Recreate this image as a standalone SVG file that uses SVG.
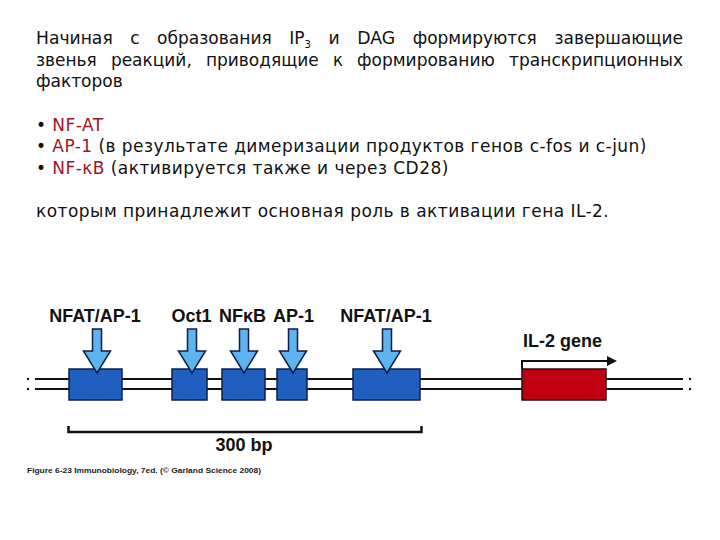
<svg xmlns="http://www.w3.org/2000/svg" width="720" height="540" viewBox="0 0 720 540">
<style>
.p{font-family:"DejaVu Sans",Tahoma,sans-serif;font-size:17px;fill:#111}
.t{font-family:"DejaVu Sans",Verdana,sans-serif;font-size:17px;letter-spacing:0.45px;fill:#111}
.r{fill:#a0141e}
.lb{font-family:"Liberation Sans",Arial,sans-serif;font-weight:bold;font-size:18px;fill:#111}
.box{fill:#1f5fbf;stroke:#0b1f4a;stroke-width:1.5}
.arr{fill:#5fb3ee;stroke:#0b1f4a;stroke-width:1.5;stroke-linejoin:miter}
.dna{stroke:#111;stroke-width:2;fill:none}
</style>
<rect width="720" height="540" fill="#fff"/>
<g id="text">
<text class="p" x="36" y="44" textLength="76.7" lengthAdjust="spacingAndGlyphs">Начиная</text>
<text class="p" x="130.2" y="44" textLength="9.4" lengthAdjust="spacingAndGlyphs">с</text>
<text class="p" x="157.1" y="44" textLength="114.7" lengthAdjust="spacingAndGlyphs">образования</text>
<text class="p" x="289.3" y="44">IP<tspan font-size="10" dy="4">3</tspan></text>
<text class="p" x="328.6" y="44" textLength="11.2" lengthAdjust="spacingAndGlyphs">и</text>
<text class="p" x="357.3" y="44" textLength="37.9" lengthAdjust="spacingAndGlyphs">DAG</text>
<text class="p" x="412.7" y="44" textLength="124.1" lengthAdjust="spacingAndGlyphs">формируются</text>
<text class="p" x="554.5" y="44" textLength="128.5" lengthAdjust="spacingAndGlyphs">завершающие</text>
<text class="p" x="36" y="65.6" textLength="60.8" lengthAdjust="spacingAndGlyphs">звенья</text>
<text class="p" x="110.9" y="65.6" textLength="80.9" lengthAdjust="spacingAndGlyphs">реакций,</text>
<text class="p" x="205.9" y="65.6" textLength="112.9" lengthAdjust="spacingAndGlyphs">приводящие</text>
<text class="p" x="332.9" y="65.6" textLength="10" lengthAdjust="spacingAndGlyphs">к</text>
<text class="p" x="357" y="65.6" textLength="137.8" lengthAdjust="spacingAndGlyphs">формированию</text>
<text class="p" x="509.1" y="65.6" textLength="173.9" lengthAdjust="spacingAndGlyphs">транскрипционных</text>
<text class="p" x="36" y="87.2">факторов</text>
<text class="t" x="36" y="130.7">• <tspan class="r">NF-AT</tspan></text>
<text class="t" x="36" y="152.3">• <tspan class="r">AP-1</tspan> (в результате димеризации продуктов генов c-fos и c-jun)</text>
<text class="t" x="36" y="174">• <tspan class="r">NF-κB</tspan> (активируется также и через CD28)</text>
<text class="t" x="36" y="217.3">которым принадлежит основная роль в активации гена IL-2.</text>
</g>
<g id="connectors">
<line class="dna" x1="35" y1="379" x2="683" y2="379"/>
<line class="dna" x1="35" y1="389" x2="683" y2="389"/>
<g fill="#111"><circle cx="28" cy="379" r="1.2"/><circle cx="28" cy="389" r="1.2"/><circle cx="690" cy="379" r="1.2"/><circle cx="690" cy="389" r="1.2"/></g>
</g>
<g id="box1"><rect class="box" x="69" y="369" width="53" height="31"/><polygon class="arr" points="92.5,329 101.5,329 101.5,351 110.5,351 97,373 83.5,351 92.5,351"/><text class="lb" x="95" y="322" text-anchor="middle">NFAT/AP-1</text></g>
<g id="box2"><rect class="box" x="172" y="369" width="35" height="31"/><polygon class="arr" points="187.5,329 196.5,329 196.5,351 205.5,351 192,373 178.5,351 187.5,351"/><text class="lb" x="191.5" y="322" text-anchor="middle">Oct1</text></g>
<g id="box3"><rect class="box" x="222" y="369" width="43" height="31"/><polygon class="arr" points="239.5,329 248.5,329 248.5,351 257.5,351 244,373 230.5,351 239.5,351"/><text class="lb" x="242.5" y="322" text-anchor="middle">NFκB</text></g>
<g id="box4"><rect class="box" x="277" y="369" width="30" height="31"/><polygon class="arr" points="288.5,329 297.5,329 297.5,351 306.5,351 293,373 279.5,351 288.5,351"/><text class="lb" x="293.5" y="322" text-anchor="middle">AP-1</text></g>
<g id="box5"><rect class="box" x="353" y="369" width="67" height="31"/><polygon class="arr" points="382.5,329 391.5,329 391.5,351 400.5,351 387,373 373.5,351 382.5,351"/><text class="lb" x="386" y="322" text-anchor="middle">NFAT/AP-1</text></g>
<g id="il2gene"><rect x="522" y="369" width="84" height="31" fill="#c00010" stroke="#2a0a0a" stroke-width="1.5"/><path d="M522,369 V361 H608" stroke="#111" stroke-width="2" fill="none"/><polygon points="607,356 617,361 607,366" fill="#111"/><text class="lb" x="523" y="347">IL-2 gene</text></g>
<g id="scale"><path d="M68.5,426 V432 H421.5 V426" stroke="#111" stroke-width="2.5" fill="none"/><text class="lb" x="244" y="451" text-anchor="middle">300 bp</text></g>
<text x="27" y="473" font-family="Liberation Sans,Arial,sans-serif" font-weight="bold" font-size="8" fill="#222" textLength="234" lengthAdjust="spacingAndGlyphs">Figure 6-23  Immunobiology, 7ed. (© Garland Science 2008)</text>
</svg>
